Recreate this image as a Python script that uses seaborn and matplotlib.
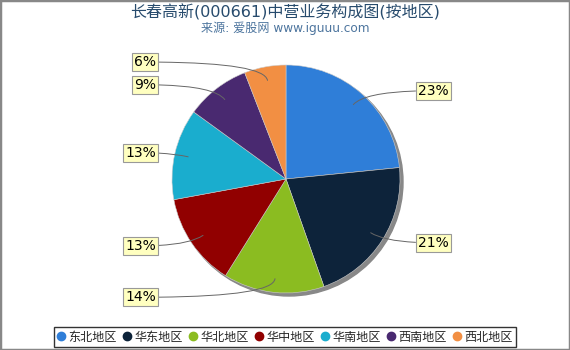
import numpy as np
import matplotlib
matplotlib.use("Agg")
import matplotlib.pyplot as plt
import seaborn as sns
from matplotlib.patches import Circle, Rectangle
from matplotlib.lines import Line2D

regions = ["东北地区", "华东地区", "华北地区", "华中地区", "华南地区", "西南地区", "西北地区"]
shares  = [23.4, 21.2, 14.3, 13.2, 12.9, 9.1, 5.9]
colors  = ["#2f7ed8", "#0d233a", "#8bbc21", "#910000", "#1aadce", "#492970", "#f28f43"]

title    = "长春高新(000661)中营业务构成图(按地区)"
subtitle = "来源: 爱股网 www.iguuu.com"

sns.set_style("white")
plt.rcParams["font.family"] = ["DejaVu Sans", "Noto Sans CJK SC"]

W, H = 570, 350
fig = plt.figure(figsize=(W / 100, H / 100), dpi=100)
ax = fig.add_axes([0, 0, 1, 1])

cx, cy, R = 286, H - 179, 114

# shadow under the pie
ax.add_patch(Circle((cx + 3, cy - 3), R, color="#888888", zorder=1))

wedges, _ = ax.pie(shares, colors=colors, startangle=90, counterclock=False,
                   center=(cx, cy), radius=R, frame=True,
                   wedgeprops=dict(edgecolor="#cccccc", linewidth=0.4, zorder=2))
ax.set_xlim(0, W)
ax.set_ylim(0, H)
ax.set_aspect("equal")
ax.axis("off")

total = sum(shares)
for w, v in zip(wedges, shares):
    mid = np.deg2rad((w.theta1 + w.theta2) / 2)
    px, py = cx + 0.88 * R * np.cos(mid), cy + 0.88 * R * np.sin(mid)
    ly = cy + (R + 5) * np.sin(mid)
    right = np.cos(mid) >= 0
    lx = cx + 132 if right else cx - 130
    ax.annotate(f"{v / total * 100:.0f}%", xy=(px, py), xytext=(lx, ly),
                ha="left" if right else "right", va="center", fontsize=10,
                color="black", zorder=5,
                bbox=dict(boxstyle="square,pad=0.15", fc="#ffffc0", ec="#999999", lw=0.8),
                arrowprops=dict(arrowstyle="-", color="#666666", lw=0.7,
                                shrinkA=0, shrinkB=0,
                                connectionstyle=f"angle3,angleA=0,angleB={np.rad2deg(mid):.1f}"))

fig.text(0.5, 1 - 12 / H, title, ha="center", va="center", fontsize=11.5, color="#274b6d")
fig.text(0.5, 1 - 28 / H, subtitle, ha="center", va="center", fontsize=8.7, color="#4d759e")

handles = [Line2D([0], [0], marker="o", linestyle="", markersize=6,
                  markerfacecolor=c, markeredgecolor=c) for c in colors]
leg = fig.legend(handles, regions, loc="center", bbox_to_anchor=(0.5, 1 - 337 / H),
                 ncol=len(regions), frameon=True, fontsize=8.7, handletextpad=0.3,
                 columnspacing=0.55, handlelength=0.6, borderpad=0.3, fancybox=False)
leg.get_frame().set_edgecolor("black")
leg.get_frame().set_linewidth(1.0)

fig.patches.append(Rectangle((0, 0), 1, 1, transform=fig.transFigure, fill=False,
                             ec="#888888", lw=2.5))

fig.savefig("out.png", dpi=100)
